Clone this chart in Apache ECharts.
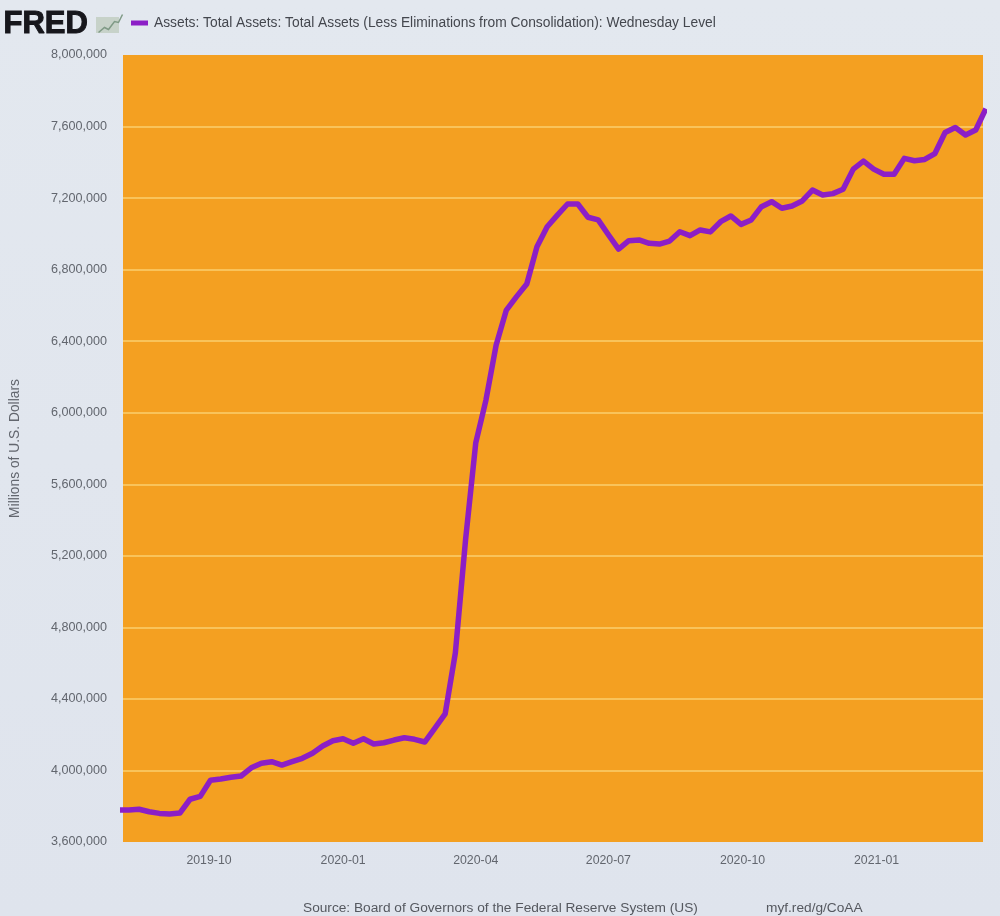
<!DOCTYPE html>
<html>
<head>
<meta charset="utf-8">
<title>FRED Total Assets</title>
<script src="https://cdn.jsdelivr.net/npm/echarts@6/dist/echarts.min.js"></script>
<style>
  html, body { margin: 0; padding: 0; background: #e1e6ee; }
  #chart { width: 1000px; height: 916px; }
</style>
</head>
<body>
<div id="chart"></div>
<script>
const seriesName = 'Assets: Total Assets: Total Assets (Less Eliminations from Consolidation): Wednesday Level';

const dates = [
  '2019-07-31', '2019-08-07', '2019-08-14', '2019-08-21', '2019-08-28', '2019-09-04', '2019-09-11', '2019-09-18', '2019-09-25',
  '2019-10-02', '2019-10-09', '2019-10-16', '2019-10-23', '2019-10-30', '2019-11-06', '2019-11-13', '2019-11-20', '2019-11-27',
  '2019-12-04', '2019-12-11', '2019-12-18', '2019-12-25', '2020-01-01', '2020-01-08', '2020-01-15', '2020-01-22', '2020-01-29',
  '2020-02-05', '2020-02-12', '2020-02-19', '2020-02-26', '2020-03-04', '2020-03-11', '2020-03-18', '2020-03-25', '2020-04-01',
  '2020-04-08', '2020-04-15', '2020-04-22', '2020-04-29', '2020-05-06', '2020-05-13', '2020-05-20', '2020-05-27', '2020-06-03',
  '2020-06-10', '2020-06-17', '2020-06-24', '2020-07-01', '2020-07-08', '2020-07-15', '2020-07-22', '2020-07-29', '2020-08-05',
  '2020-08-12', '2020-08-19', '2020-08-26', '2020-09-02', '2020-09-09', '2020-09-16', '2020-09-23', '2020-09-30', '2020-10-07',
  '2020-10-14', '2020-10-21', '2020-10-28', '2020-11-04', '2020-11-11', '2020-11-18', '2020-11-25', '2020-12-02', '2020-12-09',
  '2020-12-16', '2020-12-23', '2020-12-30', '2021-01-06', '2021-01-13', '2021-01-20', '2021-01-27', '2021-02-03', '2021-02-10',
  '2021-02-17', '2021-02-24', '2021-03-03', '2021-03-10', '2021-03-17'
];

// millions of dollars
const assets = [
  3779000, 3779000, 3783000, 3769000, 3760000, 3757000, 3762000, 3839000, 3855000,
  3945000, 3952000, 3962000, 3969000, 4015000, 4040000, 4049000, 4030000, 4049000,
  4068000, 4096000, 4137000, 4166000, 4177000, 4152000, 4177000, 4148000, 4155000,
  4170000, 4183000, 4174000, 4159000, 4237000, 4316000, 4657000, 5288000, 5831000,
  6071000, 6379000, 6574000, 6649000, 6720000, 6928000, 7040000, 7105000, 7167000,
  7167000, 7093000, 7078000, 6995000, 6915000, 6962000, 6966000, 6947000, 6943000,
  6960000, 7012000, 6990000, 7022000, 7011000, 7068000, 7100000, 7053000, 7078000,
  7152000, 7180000, 7143000, 7156000, 7184000, 7245000, 7217000, 7225000, 7249000,
  7362000, 7407000, 7362000, 7333000, 7333000, 7422000, 7409000, 7416000, 7449000,
  7567000, 7595000, 7553000, 7581000, 7700000
];

const xTickLabels = ['2019-10', '2020-01', '2020-04', '2020-07', '2020-10', '2021-01'];
const xStart = '2019-08-03';
const xEnd = '2021-03-15';
const yMin = 3600000;
const yMax = 8000000;
const yStep = 400000;

const sourceText = 'Source: Board of Governors of the Federal Reserve System (US)';
const linkText = 'myf.red/g/CoAA';

const labelFont = '"Liberation Sans", Arial, sans-serif';
const labelColor = '#62666e';

function toTime (s) {
  return new Date(s + 'T00:00:00').getTime();
}

const chart = echarts.init(document.getElementById('chart'));

const option = {
  animation: false,
  backgroundColor: {
    type: 'linear', x: 0, y: 0, x2: 0, y2: 1,
    colorStops: [
      { offset: 0, color: '#e3e8ef' },
      { offset: 1, color: '#dfe4ed' }
    ]
  },
  grid: {
    left: 123,
    right: 17,
    top: 55,
    bottom: 74,
    outerBoundsMode: 'none',
    show: true,
    backgroundColor: '#f4a021',
    borderWidth: 0
  },
  legend: {
    left: 131,
    top: 16,
    padding: 0,
    icon: 'rect',
    itemWidth: 17,
    itemHeight: 5,
    itemGap: 6,
    textStyle: {
      fontFamily: labelFont,
      fontSize: 13.8,
      color: '#44474e',
      padding: [0, 0, 0, 1]
    }
  },
  xAxis: {
    type: 'value',
    min: toTime(xStart),
    max: toTime(xEnd),
    axisLine: { show: false },
    axisTick: { show: false },
    splitLine: { show: false },
    axisLabel: {
      customValues: xTickLabels.map(t => toTime(t + '-01')),
      formatter: function (value) {
        const d = new Date(value);
        return d.getFullYear() + '-' + String(d.getMonth() + 1).padStart(2, '0');
      },
      margin: 13,
      fontFamily: labelFont,
      fontSize: 12.3,
      color: labelColor,
      hideOverlap: false
    }
  },
  yAxis: {
    type: 'value',
    min: yMin,
    max: yMax,
    interval: yStep,
    name: 'Millions of U.S. Dollars',
    nameLocation: 'middle',
    nameGap: 101,
    nameTextStyle: {
      fontFamily: labelFont,
      fontSize: 13.8,
      color: labelColor
    },
    axisLine: { show: false },
    axisTick: { show: false },
    splitLine: {
      show: true,
      showMinLine: false,
      showMaxLine: false,
      lineStyle: { color: '#fbcf6e', width: 1.5 }
    },
    axisLabel: {
      margin: 16,
      fontFamily: labelFont,
      fontSize: 12.6,
      color: labelColor,
      formatter: function (value) {
        return value.toLocaleString('en-US');
      }
    }
  },
  series: [
    {
      name: seriesName,
      type: 'line',
      data: dates.map((d, i) => [toTime(d), assets[i]]),
      showSymbol: false,
      clip: true,
      color: '#8c1fc6',
      lineStyle: { color: '#8c1fc6', width: 5.5, join: 'round' }
    }
  ],
  graphic: [
    {
      type: 'text',
      left: 3,
      top: 8,
      style: {
        text: 'FRED',
        fontFamily: labelFont,
        fontWeight: 'bold',
        fontSize: 31,
        fill: '#17171c',
        stroke: '#17171c',
        lineWidth: 1
      }
    },
    // little chart badge beside the logo
    { type: 'rect', left: 96, top: 17, shape: { width: 23, height: 16 }, style: { fill: '#c7d2c9' } },
    {
      type: 'polyline',
      left: 96,
      top: 12,
      shape: { points: [[0, 18], [6, 13], [10, 15], [16, 7], [20, 8], [24, 0]] },
      style: { stroke: '#7f9a86', lineWidth: 1.5, fill: null }
    },
    {
      type: 'text',
      left: 303,
      top: 901,
      style: { text: sourceText, fontFamily: labelFont, fontSize: 13.7, fill: '#55585f' }
    },
    {
      type: 'text',
      left: 766,
      top: 901,
      style: { text: linkText, fontFamily: labelFont, fontSize: 13.7, fill: '#55585f' }
    }
  ]
};

chart.setOption(option);
</script>
</body>
</html>
